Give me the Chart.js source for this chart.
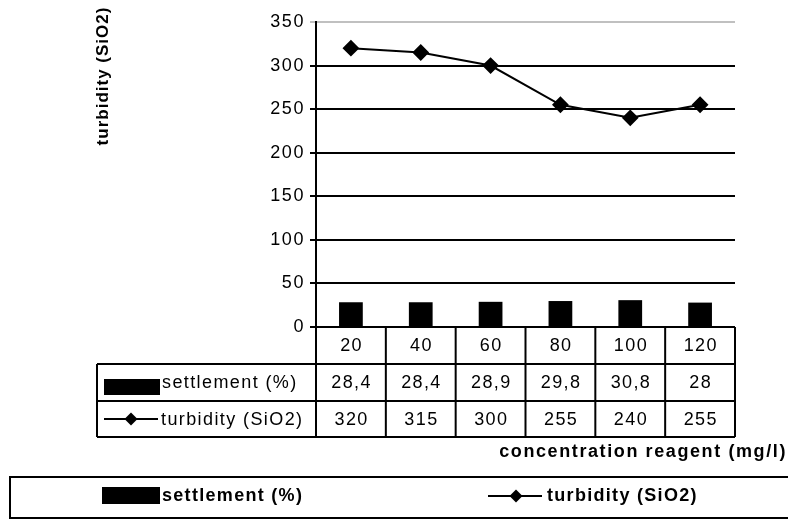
<!DOCTYPE html>
<html>
<head>
<meta charset="utf-8">
<script src="https://cdn.jsdelivr.net/npm/chart.js@4/dist/chart.umd.min.js"></script>
<style>
html,body{margin:0;padding:0;background:#fff;}
#c{display:block;}
</style>
</head>
<body>
<canvas id="c" width="788" height="520"></canvas>
<script>
const categories = ['20', '40', '60', '80', '100', '120'];
const settlement = [28.4, 28.4, 28.9, 29.8, 30.8, 28];
const turbidity = [320, 315, 300, 255, 240, 255];
const seriesNames = ['settlement (%)', 'turbidity (SiO2)'];
const yTitle = 'turbidity (SiO2)';
const xTitle = 'concentration reagent (mg/l)';
const yMin = 0, yMax = 350, yStep = 50;

const FONT = "'Liberation Sans', Arial, sans-serif";

function fmt(v){ return String(v).replace('.', ','); }

function drawDiamond(ctx, x, y, r){
  ctx.beginPath();
  ctx.moveTo(x, y - r); ctx.lineTo(x + r, y); ctx.lineTo(x, y + r); ctx.lineTo(x - r, y);
  ctx.closePath(); ctx.fill();
}

function spaced(ctx, px){ try { ctx.letterSpacing = px + 'px'; } catch(e){} }

function textC(ctx, s, x, y, sp){
  ctx.fillText(s, x + sp / 2, y);
}

const tablePlugin = {
  id: 'tablePlugin',
  beforeDraw(chart){ spaced(chart.ctx, 1.6); },
  afterDraw(chart){
    const ctx = chart.ctx;
    const ca = chart.chartArea;
    const xs = chart.scales.x;
    const n = categories.length;
    const bounds = [];
    for (let i = 0; i <= n; i++) {
      if (i === 0) bounds.push(ca.left);
      else if (i === n) bounds.push(ca.right);
      else bounds.push((xs.getPixelForValue(i - 1) + xs.getPixelForValue(i)) / 2);
    }
    const tableLeft = 97;
    const r0 = ca.bottom, r1 = 364, r2 = 401, r3 = 437;
    ctx.save();
    ctx.strokeStyle = '#000';
    ctx.lineWidth = 2;
    ctx.beginPath();
    ctx.moveTo(ca.left, r0); ctx.lineTo(ca.right, r0);
    ctx.moveTo(tableLeft, r1); ctx.lineTo(ca.right, r1);
    ctx.moveTo(tableLeft, r2); ctx.lineTo(ca.right, r2);
    ctx.moveTo(tableLeft, r3); ctx.lineTo(ca.right, r3);
    ctx.moveTo(tableLeft, r1); ctx.lineTo(tableLeft, r3);
    for (let i = 0; i <= n; i++) {
      ctx.moveTo(bounds[i], r0); ctx.lineTo(bounds[i], r3);
    }
    ctx.stroke();

    ctx.fillStyle = '#000';
    ctx.font = '18px ' + FONT;
    spaced(ctx, 1.4);
    ctx.textAlign = 'center';
    ctx.textBaseline = 'middle';
    for (let i = 0; i < n; i++) {
      const cx = xs.getPixelForValue(i);
      textC(ctx, categories[i], cx, (r0 + r1) / 2 + 1, 1.4);
      textC(ctx, fmt(settlement[i]), cx, (r1 + r2) / 2 + 1, 1.4);
      textC(ctx, fmt(turbidity[i]), cx, (r2 + r3) / 2 + 1, 1.4);
    }
    // row legend keys
    ctx.fillRect(104, 379, 56, 16);
    ctx.textAlign = 'left';
    ctx.fillText(seriesNames[0], 162, (r1 + r2) / 2 + 1);
    ctx.beginPath();
    ctx.lineWidth = 2;
    ctx.moveTo(104, 419); ctx.lineTo(158, 419); ctx.stroke();
    drawDiamond(ctx, 131, 419, 6.5);
    ctx.fillText(seriesNames[1], 161, (r2 + r3) / 2 + 1);

    // x title
    ctx.font = 'bold 18px ' + FONT;
    spaced(ctx, 1.6);
    ctx.textAlign = 'right';
    ctx.fillText(xTitle, 787, 452);

    // y title
    ctx.save();
    ctx.font = 'bold 17px ' + FONT;
    spaced(ctx, 1);
    ctx.translate(103, 76);
    ctx.rotate(-Math.PI / 2);
    ctx.textAlign = 'center';
    ctx.fillText(yTitle, 0, 0);
    ctx.restore();

    // legend box
    ctx.lineWidth = 2;
    ctx.strokeRect(10, 477, 790, 41);
    ctx.fillRect(102, 487, 58, 17);
    ctx.font = 'bold 18px ' + FONT;
    spaced(ctx, 1.3);
    ctx.textAlign = 'left';
    ctx.fillText(seriesNames[0], 162, 496);
    ctx.beginPath();
    ctx.moveTo(488, 496); ctx.lineTo(542, 496); ctx.stroke();
    drawDiamond(ctx, 516, 496, 6.5);
    ctx.fillText(seriesNames[1], 547, 496);
    ctx.restore();
  }
};

new Chart(document.getElementById('c'), {
  data: {
    labels: categories,
    datasets: [
      {
        type: 'line',
        label: seriesNames[1],
        data: turbidity,
        borderColor: '#000',
        backgroundColor: '#000',
        borderWidth: 2,
        pointStyle: 'rectRot',
        pointRadius: 7,
        pointBackgroundColor: '#000',
        pointBorderColor: '#000',
        tension: 0,
        order: 0
      },
      {
        type: 'bar',
        label: seriesNames[0],
        data: settlement,
        backgroundColor: '#000',
        borderWidth: 0,
        categoryPercentage: 1,
        barPercentage: 0.34,
        order: 1
      }
    ]
  },
  options: {
    responsive: false,
    animation: false,
    devicePixelRatio: 1,
    layout: { padding: { left: 0, top: 22, right: 53, bottom: 193 } },
    plugins: { legend: { display: false }, tooltip: { enabled: false }, title: { display: false } },
    scales: {
      x: {
        display: false,
        offset: true
      },
      y: {
        min: yMin,
        max: yMax,
        afterFit(scale){ scale.width = 316; },
        ticks: {
          stepSize: yStep,
          color: '#000',
          font: { family: FONT, size: 18 },
          padding: 5
        },
        border: { display: true, color: '#000', width: 2 },
        grid: {
          color: (c) => (c.tick && c.tick.value === yMax) ? '#c0c0c0' : '#000',
          lineWidth: 2,
          tickLength: 6,
          drawTicks: true
        }
      }
    }
  },
  plugins: [tablePlugin]
});
</script>
</body>
</html>
